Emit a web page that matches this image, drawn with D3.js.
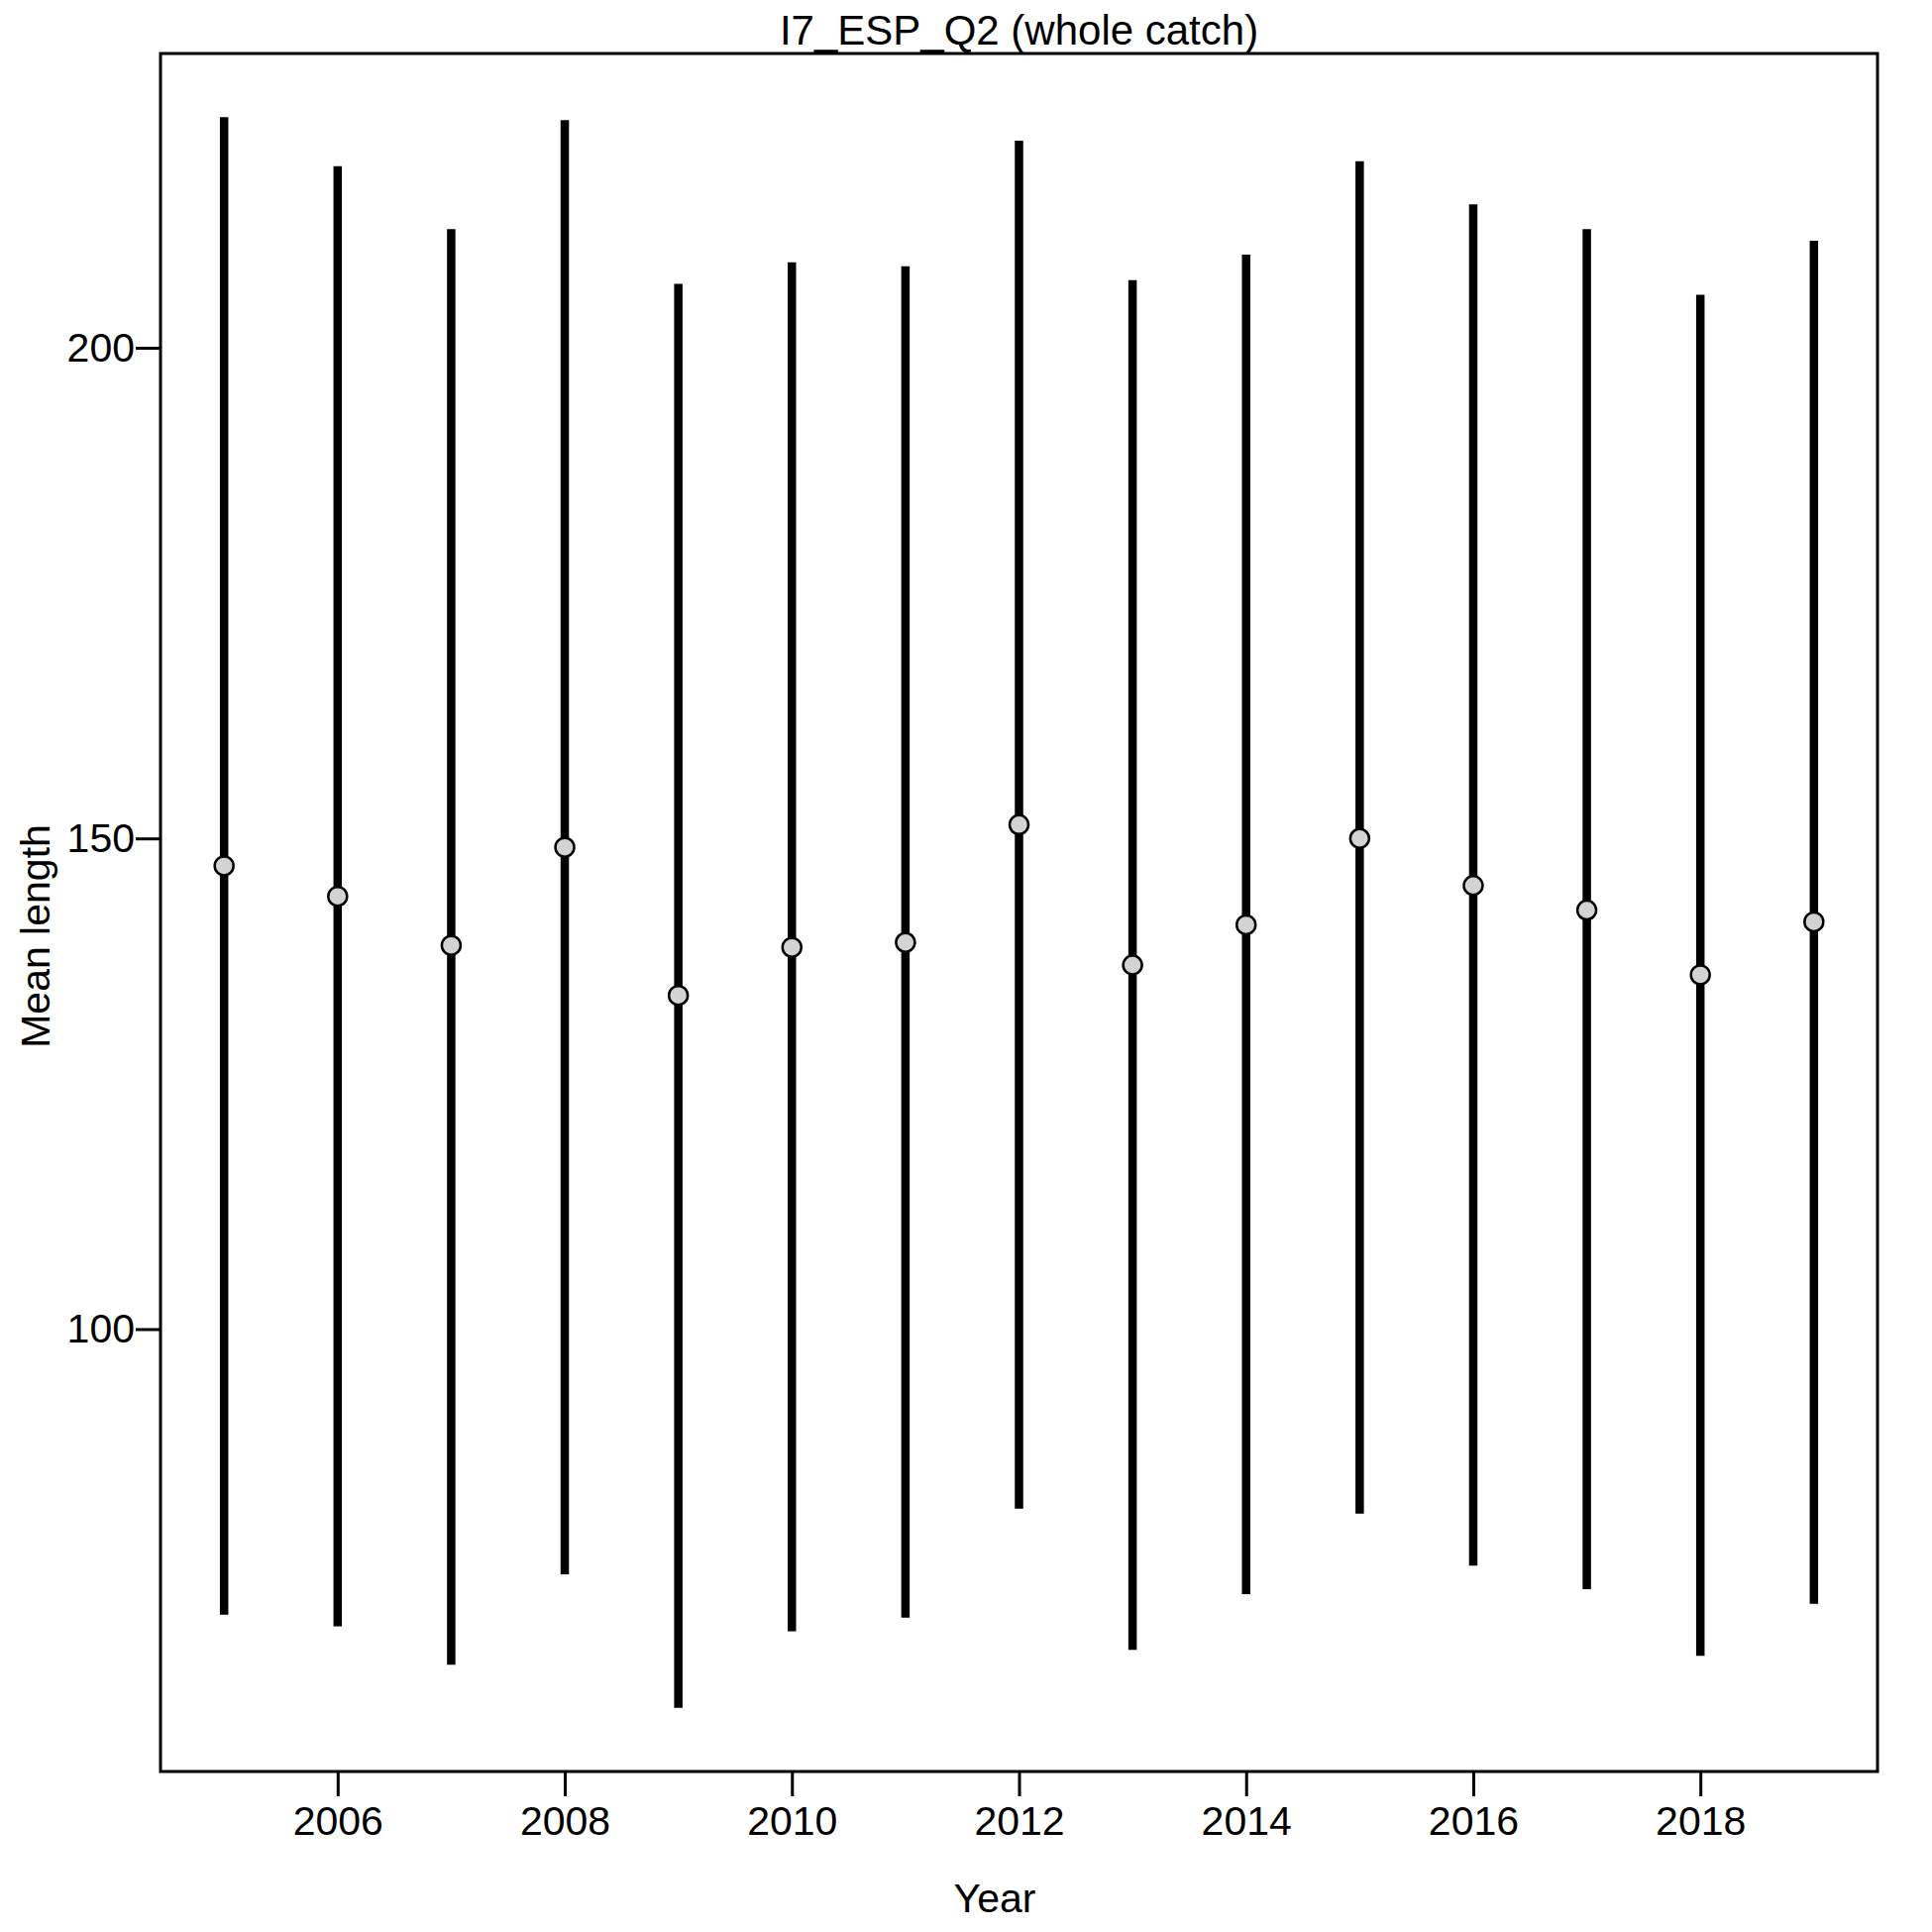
<!DOCTYPE html>
<html>
<head>
<meta charset="utf-8">
<script src="https://cdn.jsdelivr.net/npm/d3@7"></script>
<style>
  body { margin: 0; background: #fff; }
  svg text { font-family: "Liberation Sans", Arial, sans-serif; fill: #000; }
</style>
</head>
<body>
<svg id="chart" width="1950" height="1950"></svg>
<script>
// data
const years = [2005, 2006, 2007, 2008, 2009, 2010, 2011, 2012, 2013, 2014, 2015, 2016, 2017, 2018, 2019];
const meanLen = [147.2, 144.1, 139.1, 149.1, 134.0, 138.9, 139.4, 151.4, 137.1, 141.2, 150.0, 145.2, 142.7, 136.1, 141.5];
const upper = [223.5, 218.5, 212.1, 223.2, 206.5, 208.7, 208.3, 221.1, 206.9, 209.5, 219.0, 214.6, 212.1, 205.4, 210.9];
const lower = [70.9, 69.7, 65.8, 75.0, 61.4, 69.2, 70.6, 81.7, 67.3, 73.0, 81.2, 75.9, 73.5, 66.7, 72.0];
const xTicks = [2006, 2008, 2010, 2012, 2014, 2016, 2018];
const yTicks = [100, 150, 200];
const title = "I7_ESP_Q2 (whole catch)";

const svg = d3.select("#chart");
const pLeft = 162, pRight = 1895, pTop = 54, pBottom = 1788;

// R style 4% extension of the ranges
const xr = d3.extent(years), xe = (xr[1] - xr[0]) * 0.04;
const yr = [d3.min(lower), d3.max(upper)], ye = (yr[1] - yr[0]) * 0.04;

const x = d3.scaleLinear().domain([xr[0] - xe, xr[1] + xe]).range([pLeft, pRight]);
const y = d3.scaleLinear().domain([yr[0] - ye, yr[1] + ye]).range([pBottom, pTop]);

const rows = years.map((yy, i) => ({year: yy, m: meanLen[i], hi: upper[i], lo: lower[i]}));

// bars
svg.append("g").selectAll("line").data(rows).join("line")
  .attr("x1", d => x(d.year)).attr("x2", d => x(d.year))
  .attr("y1", d => y(d.lo)).attr("y2", d => y(d.hi))
  .attr("stroke", "black").attr("stroke-width", 8.5);

// points
svg.append("g").selectAll("circle").data(rows).join("circle")
  .attr("cx", d => x(d.year)).attr("cy", d => y(d.m))
  .attr("r", 9.5).attr("fill", "#d3d3d3")
  .attr("stroke", "black").attr("stroke-width", 2.5);

// axes
const xa = svg.append("g").attr("transform", `translate(0,${pBottom})`)
  .call(d3.axisBottom(x).tickValues(xTicks).tickFormat(d3.format("d")).tickSize(25).tickPadding(10));
const ya = svg.append("g").attr("transform", `translate(${pLeft},0)`)
  .call(d3.axisLeft(y).tickValues(yTicks).tickSize(25).tickPadding(1));
[xa, ya].forEach(a => {
  a.select(".domain").remove();
  a.selectAll("line").attr("stroke", "black").attr("stroke-width", 3);
  a.selectAll("text").attr("font-size", 41).attr("font-family", "Liberation Sans, Arial, sans-serif");
});

// frame
svg.append("rect").attr("x", pLeft).attr("y", pTop)
  .attr("width", pRight - pLeft).attr("height", pBottom - pTop)
  .attr("fill", "none").attr("stroke", "black").attr("stroke-width", 3);

// labels
svg.append("text").attr("x", (pLeft + pRight) / 2).attr("y", 45).attr("text-anchor", "middle")
  .attr("font-size", 42).text(title);
svg.append("text").attr("x", 1004).attr("y", 1930).attr("text-anchor", "middle")
  .attr("font-size", 41).text("Year");
svg.append("text").attr("transform", "translate(50,945) rotate(-90)").attr("text-anchor", "middle")
  .attr("font-size", 41).text("Mean length");
</script>
</body>
</html>
